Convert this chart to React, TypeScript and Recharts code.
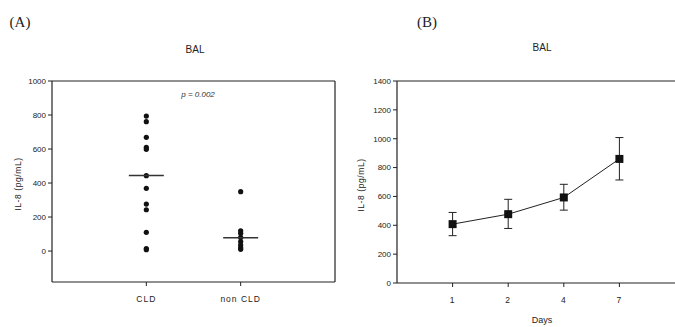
import React from "react";
import {
  ComposedChart,
  Scatter,
  Line,
  XAxis,
  YAxis,
  ErrorBar,
  ReferenceLine,
} from "recharts";

// Panel A data
const groups = ["CLD", "non CLD"];
const cldValues = [794, 761, 669, 610, 598, 443, 369, 276, 243, 110, 15, 8];
const nonCldValues = [349, 119, 104, 80, 55, 35, 20, 10];
const medians = [445, 78];
const yTicksA = [0, 200, 400, 600, 800, 1000];

// Panel B data
const days = ["1", "2", "4", "7"];
const meanIL8 = [408, 477, 593, 860];
const errLow = [80, 99, 88, 146];
const errHigh = [81, 103, 91, 148];
const yTicksB = [0, 200, 400, 600, 800, 1000, 1200, 1400];

const pointsA = [
  ...cldValues.map((v) => ({ x: 1, y: v })),
  ...nonCldValues.map((v) => ({ x: 2, y: v })),
];
const medianData = medians.map((m, i) => ({ x: i + 1, y: m }));
const dataB = days.map((d, i) => ({
  x: i + 1,
  y: meanIL8[i],
  err: [errLow[i], errHigh[i]],
}));

const FONT = "'Liberation Sans', Arial, sans-serif";
const tickStyle = { fontSize: 8, fill: "#222", fontFamily: FONT };
const xTickStyle = { fontSize: 8.5, fill: "#222", fontFamily: FONT, letterSpacing: 1 };

const Dot = (props: any) => (
  <circle cx={props.cx} cy={props.cy} r={2.6} fill="#111" />
);
const MedianLine = (props: any) => (
  <line
    x1={props.cx - 17.5}
    x2={props.cx + 17.5}
    y1={props.cy}
    y2={props.cy}
    stroke="#333"
    strokeWidth={1.5}
  />
);
const SquareDot = (props: any) => (
  <rect
    key={props.index}
    x={props.cx - 4}
    y={props.cy - 4}
    width={8}
    height={8}
    fill="#111"
  />
);

const txt = (
  text: string,
  x: number,
  y: number,
  style: React.CSSProperties
) => (
  <div
    style={{
      position: "absolute",
      left: x,
      top: y,
      transform: "translate(-50%, -50%)",
      whiteSpace: "nowrap",
      ...style,
    }}
  >
    {text}
  </div>
);

export default function App() {
  return (
    <div
      style={{
        position: "absolute",
        left: 0,
        top: 0,
        width: 675,
        height: 327,
        background: "#fff",
        overflow: "hidden",
      }}
    >
      {/* Panel A */}
      <div style={{ position: "absolute", left: 0, top: 0 }}>
        <ComposedChart
          width={340}
          height={327}
          margin={{ top: 81, right: 5, bottom: 15, left: 0 }}
        >
          <XAxis
            type="number"
            dataKey="x"
            domain={[0, 3]}
            ticks={[1, 2]}
            tickFormatter={(v: number) => groups[v - 1]}
            tick={{ ...xTickStyle, dy: 8 }}
            axisLine={{ stroke: "#222", strokeWidth: 1.2 }}
            tickLine={{ stroke: "#222" }}
            tickSize={4}
            height={30}
          />
          <YAxis
            type="number"
            dataKey="y"
            domain={[-182, 1000]}
            ticks={yTicksA}
            tick={tickStyle}
            axisLine={{ stroke: "#222", strokeWidth: 1.2 }}
            tickLine={{ stroke: "#222" }}
            tickSize={4}
            width={52}
            allowDataOverflow
          />
          <ReferenceLine y={1000} stroke="#222" strokeWidth={1.2} />
          <ReferenceLine x={3} stroke="#222" strokeWidth={1.2} />
          <Scatter
            data={pointsA}
            dataKey="y"
            shape={<Dot />}
            isAnimationActive={false}
          />
          <Scatter
            data={medianData}
            dataKey="y"
            shape={<MedianLine />}
            isAnimationActive={false}
          />
        </ComposedChart>
      </div>

      {/* Panel B */}
      <div style={{ position: "absolute", left: 340, top: 0 }}>
        <ComposedChart
          width={335}
          height={327}
          data={dataB}
          margin={{ top: 81, right: 0, bottom: 14, left: 0 }}
        >
          <XAxis
            type="number"
            dataKey="x"
            domain={[0, 5]}
            ticks={[1, 2, 3, 4]}
            tickFormatter={(v: number) => days[v - 1]}
            tick={{ ...xTickStyle, dy: 8 }}
            axisLine={{ stroke: "#222", strokeWidth: 1.2 }}
            tickLine={{ stroke: "#222" }}
            tickSize={4}
            height={30}
          />
          <YAxis
            type="number"
            domain={[0, 1400]}
            ticks={yTicksB}
            tick={tickStyle}
            axisLine={{ stroke: "#222", strokeWidth: 1.2 }}
            tickLine={{ stroke: "#222" }}
            tickSize={4}
            width={57}
          />
          <ReferenceLine y={1400} stroke="#222" strokeWidth={1.2} />
          <Line
            dataKey="y"
            stroke="#222"
            strokeWidth={1}
            dot={<SquareDot />}
            isAnimationActive={false}
          >
            <ErrorBar
              dataKey="err"
              direction="y"
              width={4}
              stroke="#222"
              strokeWidth={1}
            />
          </Line>
        </ComposedChart>
      </div>

      {/* Text */}
      {txt("(A)", 20, 22, {
        fontFamily: "'Liberation Serif', 'DejaVu Serif', serif",
        fontSize: 15,
        color: "#222",
      })}
      {txt("BAL", 195, 49, { fontFamily: FONT, fontSize: 10, color: "#222" })}
      {txt("p = 0.002", 198, 94, {
        fontFamily: FONT,
        fontStyle: "italic",
        fontSize: 8,
        color: "#333",
      })}
      {txt("IL-8 (pg/mL)", 18, 184, {
        fontFamily: FONT,
        fontSize: 8.5,
        letterSpacing: 0.6,
        color: "#222",
        transform: "translate(-50%, -50%) rotate(-90deg)",
      })}
      {txt("(B)", 427, 22, {
        fontFamily: "'Liberation Serif', 'DejaVu Serif', serif",
        fontSize: 15,
        color: "#222",
      })}
      {txt("BAL", 542, 47, { fontFamily: FONT, fontSize: 10, color: "#222" })}
      {txt("IL-8 (pg/mL)", 361, 185, {
        fontFamily: FONT,
        fontSize: 8.5,
        letterSpacing: 0.6,
        color: "#222",
        transform: "translate(-50%, -50%) rotate(-90deg)",
      })}
      {txt("Days", 542, 320, { fontFamily: FONT, fontSize: 9, color: "#222" })}
    </div>
  );
}
